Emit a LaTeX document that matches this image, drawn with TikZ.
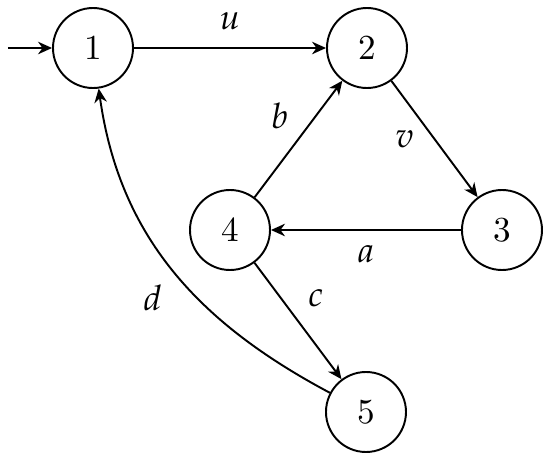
\documentclass[tikz,border=0pt]{standalone}
\usepackage{mathpazo}
\usetikzlibrary{arrows.meta}

\begin{document}
\begin{tikzpicture}[>={Stealth[length=1.4mm,width=1.25mm,inset=0.45mm]}, line width=0.55pt]
	\tikzset{vertex/.style={draw, circle, minimum size=0.8cm, inner sep=0pt}}
	\useasboundingbox (0,0) rectangle (5.5,4.58);

	\node[vertex] (v1) at (0.93,4.10) {1};
	\node[vertex] (v2) at (3.67,4.10) {2};
	\node[vertex] (v3) at (5.02,2.28) {3};
	\node[vertex] (v4) at (2.30,2.28) {4};
	\node[vertex] (v5) at (3.66,0.46) {5};
	\coordinate (start) at (0.08,4.10);

	\draw[->] (start) -- (v1);
	\draw[->] (v1) -- node[above=0.5mm]{$u$} (v2);
	\draw[->] (v2) -- node[left=0.8mm]{$v$} (v3);
	\draw[->] (v3) -- node[below=0.3mm]{$a$} (v4);
	\draw[->] (v4) -- node[pos=0.7, left=1.5mm]{$b$} (v2);
	\draw[->] (v4) -- node[pos=0.3, right=1.5mm]{$c$} (v5);
	\draw[->] (v5) to[out=152, in=-82] node[pos=0.4, left=2.3mm]{$d$} (v1);
\end{tikzpicture}
\end{document}
